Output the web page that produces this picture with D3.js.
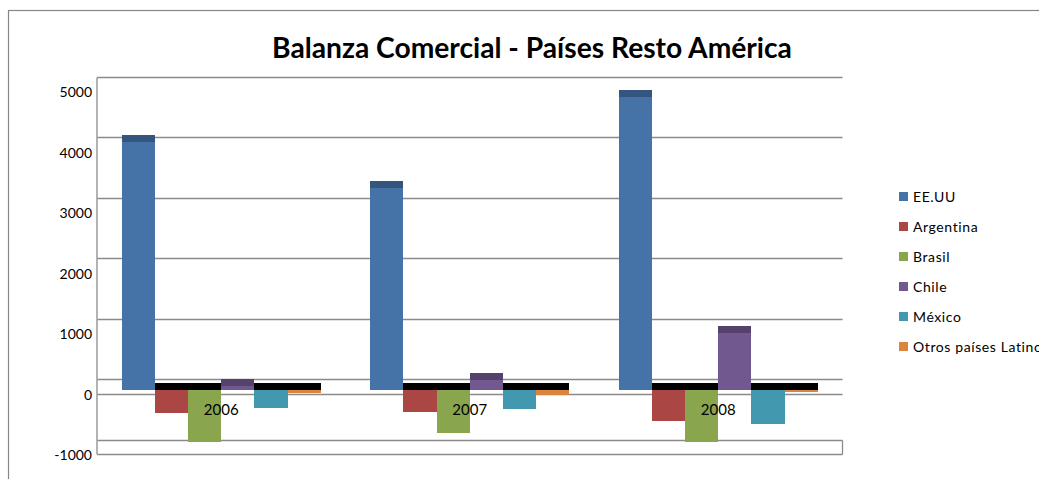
<!DOCTYPE html>
<html>
<head>
<meta charset="utf-8">
<script src="https://cdn.jsdelivr.net/npm/d3@7"></script>
<style>
  html, body { margin: 0; padding: 0; background: #fff; overflow: hidden; }
  svg { display: block; font-family: Lato, "Open Sans", "Liberation Sans", sans-serif; }
</style>
</head>
<body>
<svg id="chart" width="1039" height="479"></svg>
<script>
// Trade balance by year and partner country
const years = ["2006", "2007", "2008"];
const countries = ["EE.UU", "Argentina", "Brasil", "Chile", "México", "Otros países Latinoamericanos"];
const eeuu      = [4100, 3340, 4840];
const argentina = [-380, -360, -505];
const brasil    = [-855, -705, -855];
const chile     = [65, 165, 940];
const mexico    = [-295, -310, -555];
const otros     = [-55, -85, -30];
const seriesValues = [eeuu, argentina, brasil, chile, mexico, otros];
const yTicks = [-1000, 0, 1000, 2000, 3000, 4000, 5000];
const colors = ["#4572A7", "#AA4643", "#89A54E", "#71588F", "#4198AF", "#DB843D"];

const svg = d3.select("#chart");
const W = 1039, H = 479;

// chart frame
svg.append("rect")
  .attr("x", 8.5).attr("y", 10.5)
  .attr("width", W + 20).attr("height", H + 20)
  .attr("fill", "#fff").attr("stroke", "#868686").attr("stroke-width", 1.2);

// title
const title = svg.append("text")
  .attr("x", 532).attr("y", 58)
  .attr("text-anchor", "middle")
  .attr("font-weight", "bold")
  .attr("font-size", 26)
  .attr("fill", "#000")
  .text("Balanza Comercial - Países Resto América");
const tw = title.node().getComputedTextLength();
if (tw > 0) title.attr("font-size", 26 * 520 / tw);

const plotL = 97, plotR = 842.5;
const x = d3.scaleBand().domain(years).range([plotL, plotR]).paddingInner(0.2).paddingOuter(0.1);
const xs = d3.scaleBand().domain(countries).range([0, x.bandwidth()]);
const y = d3.scaleLinear().domain([0, 1000]).range([390, 329.5]);

const depth = 7;      // visible height of a column's top face
const wallShift = -11; // back wall sits above the front plane
const frontShift = 3.5;

const grid = svg.append("g");
// back wall gridlines
grid.selectAll("line.back")
  .data(yTicks)
  .join("line")
  .attr("class", "back")
  .attr("x1", plotL).attr("x2", plotR)
  .attr("y1", d => Math.round(y(d) + wallShift) + 0.5)
  .attr("y2", d => Math.round(y(d) + wallShift) + 0.5)
  .attr("stroke", "#8a8a8a").attr("stroke-width", 1.3);
// front edges at zero and at the floor
grid.selectAll("line.front")
  .data([0, -1000])
  .join("line")
  .attr("class", "front")
  .attr("x1", plotL).attr("x2", plotR)
  .attr("y1", d => Math.round(y(d) + frontShift) + 0.5)
  .attr("y2", d => Math.round(y(d) + frontShift) + 0.5)
  .attr("stroke", "#8a8a8a").attr("stroke-width", 1.3);
// floor right edge
grid.append("line")
  .attr("x1", plotR).attr("x2", plotR)
  .attr("y1", Math.round(y(-1000) + wallShift) + 0.5)
  .attr("y2", Math.round(y(-1000) + frontShift) + 0.5)
  .attr("stroke", "#8a8a8a").attr("stroke-width", 1.3);
// vertical axis wall edge
grid.append("line")
  .attr("x1", plotL).attr("x2", plotL)
  .attr("y1", Math.round(y(5000) + wallShift) + 0.5)
  .attr("y2", Math.round(y(-1000) + frontShift) + 0.5)
  .attr("stroke", "#a0a0a0").attr("stroke-width", 1.6);

// axis labels
svg.append("g").selectAll("text")
  .data(yTicks)
  .join("text")
  .attr("x", 92).attr("y", d => y(d) + 9.5)
  .attr("text-anchor", "end")
  .attr("font-size", 14)
  .attr("fill", "#000")
  .text(d => d);

// columns
const cells = [];
years.forEach((yr, i) => {
  countries.forEach((c, j) => {
    cells.push({ year: yr, country: c, value: seriesValues[j][i], color: colors[j] });
  });
});

const x0 = d => Math.round(x(d.year) + xs(d.country));
const x1 = d => Math.round(x(d.year) + xs(d.country) + xs.bandwidth());

const bars = svg.append("g").attr("shape-rendering", "crispEdges");
bars.selectAll("rect.front")
  .data(cells)
  .join("rect")
  .attr("class", "front")
  .attr("x", x0)
  .attr("width", d => x1(d) - x0(d))
  .attr("y", d => Math.min(y(d.value), y(0)))
  .attr("height", d => Math.abs(y(d.value) - y(0)))
  .attr("fill", d => d.color);

bars.selectAll("rect.top")
  .data(cells)
  .join("rect")
  .attr("class", "top")
  .attr("x", x0)
  .attr("width", d => x1(d) - x0(d))
  .attr("y", d => (d.value >= 0 ? y(d.value) : y(0)) - depth)
  .attr("height", depth)
  .attr("fill", d => d.value >= 0 ? d3.color(d.color).darker(0.8) : "#000");

// category labels
svg.append("g").selectAll("text")
  .data(years)
  .join("text")
  .attr("x", d => x(d) + x.bandwidth() / 2)
  .attr("y", 414.5)
  .attr("text-anchor", "middle")
  .attr("font-size", 15)
  .attr("fill", "#000")
  .text(d => d);

// legend
const legend = svg.append("g").attr("transform", "translate(899,192)");
const items = legend.selectAll("g")
  .data(countries)
  .join("g")
  .attr("transform", (d, i) => `translate(0,${i * 30})`);
items.append("rect")
  .attr("width", 9).attr("height", 9)
  .attr("fill", (d, i) => colors[i]);
items.append("text")
  .attr("x", 14).attr("y", 10)
  .attr("font-size", 14)
  .attr("letter-spacing", 0.6)
  .attr("fill", "#000")
  .text(d => d);
</script>
</body>
</html>
